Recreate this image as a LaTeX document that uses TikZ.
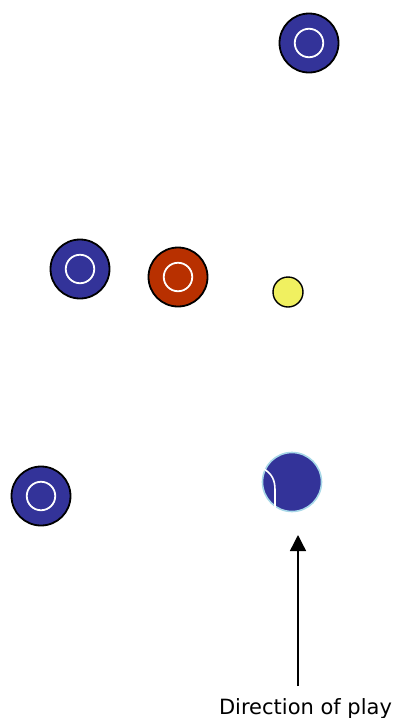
\documentclass[tikz,border=0pt]{standalone}
\usepackage{fontspec}
\setmainfont{DejaVu Sans}
\usetikzlibrary{arrows.meta}
\definecolor{bowlblue}{HTML}{333399}
\definecolor{bowlred}{HTML}{B83000}
\definecolor{jackyellow}{HTML}{F0F060}
\definecolor{rimblue}{HTML}{A8D8E8}
\begin{document}
\begin{tikzpicture}[x=1pt,y=-1pt,
  bowl/.style={circle,draw=black,line width=1.8pt,fill=bowlblue,minimum size=59pt,inner sep=0pt},
  redbowl/.style={bowl,fill=bowlred},
  ring/.style={circle,draw=white,line width=1.8pt,minimum size=28.5pt,inner sep=0pt},
  jack/.style={circle,draw=black,line width=1.4pt,fill=jackyellow,minimum size=30pt,inner sep=0pt},
  lastbowl/.style={circle,draw=rimblue,line width=1.6pt,fill=bowlblue,minimum size=59pt,inner sep=0pt}]
\useasboundingbox (0,0) rectangle (395,718);
\node[bowl] (b1) at (309,43) {};
\node[ring] at (b1) {};
\node[bowl] (b2) at (80,269) {};
\node[ring] at (b2) {};
\node[redbowl] (r1) at (178,277) {};
\node[ring] at (r1) {};
\node[jack] (j) at (288,292) {};
\node[bowl] (b3) at (41,496) {};
\node[ring] at (b3) {};
\node[lastbowl] (b4) at (292,482) {};
\draw[white,line width=1.6pt] (264,469) .. controls (272,474) and (275,480) .. (275,490) -- (275,508);
\node[font=\fontsize{21}{25}\selectfont,anchor=base,inner sep=0pt] (t) at (305.5,714) {Direction of play};
\coordinate (tail) at (298,686);
\coordinate (tip) at (298,535);
\draw[line width=1.4pt,-{Triangle[length=16pt,width=16pt]}] (tail) -- (tip);
\end{tikzpicture}
\end{document}
